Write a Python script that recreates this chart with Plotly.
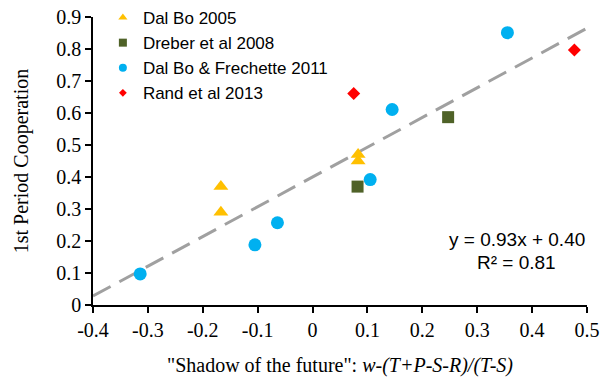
import plotly.graph_objects as go

# Study data: shadow of the future (x) vs 1st period cooperation (y)
dalbo2005_x = [-0.167, -0.167, 0.083, 0.083]
dalbo2005_y = [0.37, 0.29, 0.47, 0.45]

dreber2008_x = [0.082, 0.247]
dreber2008_y = [0.37, 0.587]

dbf2011_x = [-0.314, -0.105, -0.064, 0.105, 0.145, 0.355]
dbf2011_y = [0.097, 0.188, 0.257, 0.392, 0.611, 0.851]

rand2013_x = [0.075, 0.477]
rand2013_y = [0.661, 0.797]

# Linear fit shown on the chart
slope = 0.93
intercept = 0.40
r_squared = 0.81
fit_x = [-0.4, 0.5]

tick_x = [-0.4, -0.3, -0.2, -0.1, 0, 0.1, 0.2, 0.3, 0.4, 0.5]
tick_y = [0, 0.1, 0.2, 0.3, 0.4, 0.5, 0.6, 0.7, 0.8, 0.9]

# name, x, y, symbol, colour, plot size, legend key size
series = [
    ("Dal Bo 2005", dalbo2005_x, dalbo2005_y, "triangle-up", "#FFC000", 13, 8),
    ("Dreber et al 2008", dreber2008_x, dreber2008_y, "square", "#4F6228", 12, 8),
    ("Dal Bo & Frechette 2011", dbf2011_x, dbf2011_y, "circle", "#00B0F0", 13, 8),
    ("Rand et al 2013", rand2013_x, rand2013_y, "diamond", "#FF0000", 10, 6),
]

SERIF = "Liberation Serif"
SANS = "Liberation Sans"

W, H = 603, 379
ML, MR, MB = 93, 16, 74
PLOT_TOP = 17                      # pixel row of the y = 0.9 line
AREA_H = H - MB                    # height of the area above the bottom margin
Y_DOMAIN_TOP = (AREA_H - PLOT_TOP) / AREA_H


def fmt(v):
    return "0" if v == 0 else f"{v:.1f}"


fig = go.Figure()

fig.add_trace(go.Scatter(
    x=fit_x, y=[slope * v + intercept for v in fit_x],
    mode="lines", line=dict(color="#A0A0A0", width=3, dash="20px,10px"),
    showlegend=False, hoverinfo="skip",
))

for name, xs, ys, sym, col, sz, key_sz in series:
    fig.add_trace(go.Scatter(
        x=xs, y=ys, mode="markers", name=name,
        marker=dict(symbol=sym, color=col, size=sz, line=dict(width=0)),
        showlegend=False,
    ))
    # smaller key for the legend
    fig.add_trace(go.Scatter(
        x=[None], y=[None], mode="markers", name=name,
        marker=dict(symbol=sym, color=col, size=key_sz, line=dict(width=0)),
        showlegend=True,
    ))

# fit equation, placed in the lower right of the plot area
eq_x = 0.858
fig.add_annotation(x=eq_x, y=0.226 * Y_DOMAIN_TOP, xref="paper", yref="paper",
                   xanchor="center", yanchor="middle",
                   text=f"y = {slope:.2f}x + {intercept:.2f}", showarrow=False,
                   font=dict(family=SANS, size=19, color="#000"))
fig.add_annotation(x=eq_x, y=0.149 * Y_DOMAIN_TOP, xref="paper", yref="paper",
                   xanchor="center", yanchor="middle",
                   text=f"R² = {r_squared:.2f}", showarrow=False,
                   font=dict(family=SANS, size=19, color="#000"))

axis_common = dict(
    showgrid=False, zeroline=False, showline=True, linecolor="#000", linewidth=1.5,
    ticks="outside", ticklen=6, tickwidth=1.5, tickcolor="#000",
    tickfont=dict(family=SERIF, size=20, color="#000"), automargin=False,
)

fig.update_layout(
    width=W, height=H,
    margin=dict(l=ML, r=MR, t=0, b=MB),
    paper_bgcolor="white", plot_bgcolor="white",
    font=dict(family=SERIF, size=20, color="#000"),
    xaxis=dict(range=[-0.4, 0.5], tickvals=tick_x, ticktext=[fmt(v) for v in tick_x],
               title=dict(text='"Shadow of the future": <i>w-(T+P-S-R)/(T-S)</i>',
                          font=dict(family=SERIF, size=20, color="#000"), standoff=18),
               **axis_common),
    yaxis=dict(range=[0, 0.9], domain=[0, Y_DOMAIN_TOP],
               tickvals=tick_y, ticktext=[fmt(v) for v in tick_y],
               title=dict(text="1st Period Cooperation",
                          font=dict(family=SERIF, size=20, color="#000"), standoff=22),
               **axis_common),
    legend=dict(x=0.02, y=AREA_H / AREA_H, xanchor="left", yanchor="top",
                bgcolor="rgba(0,0,0,0)", font=dict(family=SANS, size=17, color="#000"),
                tracegroupgap=0, itemsizing="trace"),
    showlegend=True,
)

fig.write_html("out.html")
